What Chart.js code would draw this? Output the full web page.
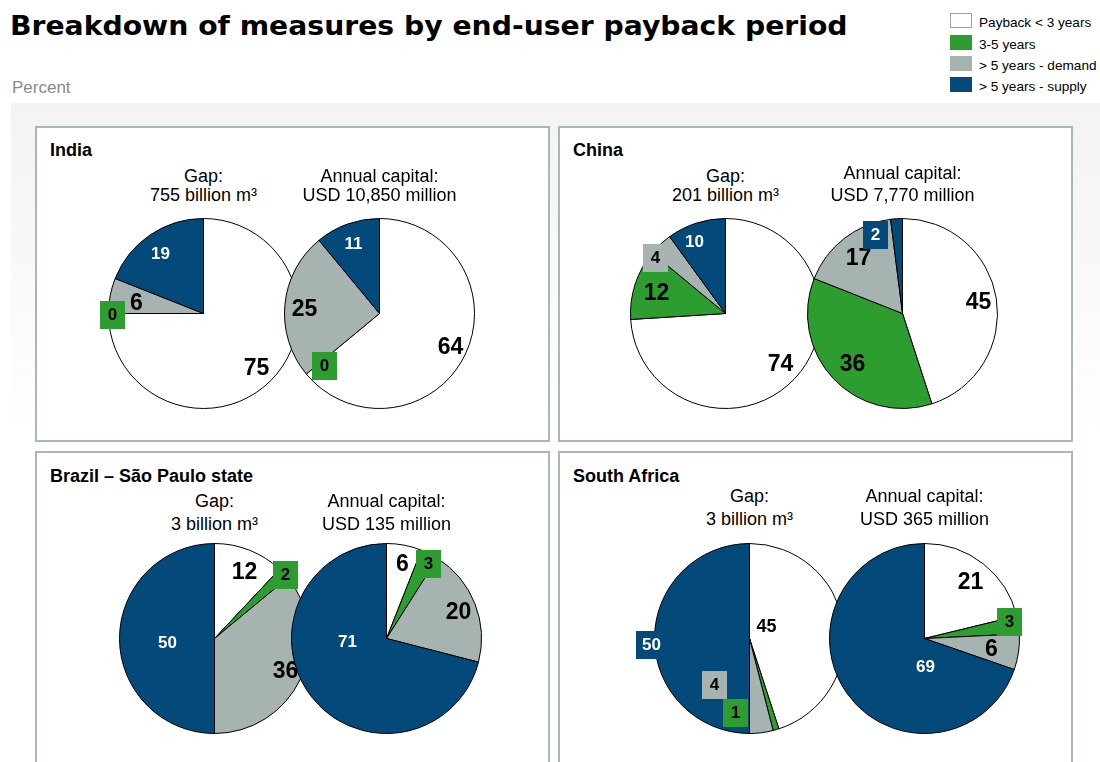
<!DOCTYPE html>
<html>
<head>
<meta charset="utf-8">
<script src="https://cdn.jsdelivr.net/npm/chart.js@4.4.1/dist/chart.umd.min.js"></script>
<style>
  body { margin: 0; width: 1100px; height: 762px; overflow: hidden; background: #fff; position: relative;
         font-family: "Liberation Sans", Arial, sans-serif; }
  #title { position: absolute; left: 10px; top: 12px; font: bold 27px "DejaVu Sans", sans-serif; line-height: 27px;
           white-space: nowrap; transform-origin: 0 0; color: #000; }
  #unit { position: absolute; left: 12px; top: 79px; font-size: 17px; line-height: 17px; color: #8a8a8a; }
  #backdrop { position: absolute; left: 11px; top: 103px; right: 0; bottom: 0;
              background: linear-gradient(#f3f3f1 0px, #f7f7f6 120px, #ffffff 330px); }
  .panel { position: absolute; box-sizing: border-box; border: 2px solid #a9b7b5; background: #fff; }
  .panel-title { position: absolute; font-weight: bold; font-size: 18px; line-height: 18px; white-space: nowrap; }
  .sub { position: absolute; font-size: 18px; text-align: center; white-space: nowrap; width: 240px; }
  .legend-row { position: absolute; left: 950px; height: 15px; }
  .legend-row span.sw { position: absolute; left: 0; top: 0; width: 22px; height: 15px; box-sizing: border-box; }
  .legend-row span.tx { position: absolute; left: 29px; top: 2px; font-size: 13.6px; line-height: 15px; white-space: nowrap; }
  canvas { position: absolute; }
</style>
</head>
<body>
<div id="backdrop"></div>
<div id="title">Breakdown of measures by end-user payback period</div>
<div id="unit">Percent</div>
<div id="legend"></div>
<div id="stage"></div>

<script>
// Payback segments, in drawing order clockwise from 12 o'clock
const segments = ['Payback < 3 years', '3-5 years', '> 5 years - demand', '> 5 years - supply'];
const segmentColors = ['#ffffff', '#2e9d2f', '#a6b3b1', '#034a7b'];
const labelInk = ['#000', '#000', '#000', '#fff'];

// Share of measures (percent) for each region
const indiaGap = [75, 0, 6, 19];
const indiaCapital = [64, 0, 25, 11];
const chinaGap = [74, 12, 4, 10];
const chinaCapital = [45, 36, 17, 2];
const brazilGap = [12, 2, 36, 50];
const brazilCapital = [6, 3, 20, 71];
const southAfricaGap = [45, 1, 4, 50];
const southAfricaCapital = [21, 3, 6, 69];

const regions = ['India', 'China', 'Brazil – São Paulo state', 'South Africa'];
const gapVolumes = ['755 billion m³', '201 billion m³', '3 billion m³', '3 billion m³'];
const annualCapital = ['USD 10,850 million', 'USD 7,770 million', 'USD 135 million', 'USD 365 million'];

// label placement relative to pie centre: [dx, dy, kind]
const labelStyle = {
  big:   { size: 23 },
  mid:   { size: 18 },
  inner: { size: 17 },
  box:   { size: 17 }
};

const panels = [
  { left: 35,  top: 126, height: 316, titleTop: 141, subTop: [166.5, 166.5], subLine: [19.5, 19.5],
    pies: [
      { values: indiaGap, left: 78, top: 188,
        spots: [[53, 54, 'big'], [-91, 1, 'box'], [-67, -11, 'big'], [-43, -60, 'inner']] },
      { values: indiaCapital, left: 254, top: 188,
        spots: [[71, 33, 'big'], [-55, 52, 'box'], [-75, -5, 'big'], [-26, -70, 'inner']] }
    ] },
  { left: 558, top: 126, height: 316, titleTop: 141, subTop: [166.5, 161.5], subLine: [19.5, 22],
    pies: [
      { values: chinaGap, left: 600, top: 188,
        spots: [[55, 50, 'big'], [-69, -21, 'big'], [-70, -56, 'box'], [-31, -72, 'inner']] },
      { values: chinaCapital, left: 777, top: 188,
        spots: [[76, -12, 'big'], [-50, 50, 'big'], [-44, -56, 'big'], [-27, -79, 'box']] }
    ] },
  { left: 35,  top: 451, height: 330, titleTop: 467, subTop: [490, 490], subLine: [22.5, 22.5],
    pies: [
      { values: brazilGap, left: 89, top: 513,
        spots: [[30, -67, 'big'], [71, -64, 'box'], [71, 32, 'big'], [-47, 4, 'inner']] },
      { values: brazilCapital, left: 261, top: 513,
        spots: [[16, -75, 'big'], [42, -75, 'box'], [72, -27, 'big'], [-39, 3, 'inner']] }
    ] },
  { left: 558, top: 451, height: 330, titleTop: 467, subTop: [485, 485], subLine: [22.5, 22.5],
    pies: [
      { values: southAfricaGap, left: 624, top: 513,
        spots: [[17, -12, 'mid'], [-14, 74, 'box'], [-35, 46, 'box'], [-98, 6, 'box']] },
      { values: southAfricaCapital, left: 799, top: 513,
        spots: [[46, -57, 'big'], [85, -17, 'box'], [67, 10, 'big'], [1, 28, 'inner']] }
    ] }
];

const CANVAS = 251;   // pie radius comes out at 95 with 30px padding
const PAD = 30;

// legend
const legend = document.getElementById('legend');
segments.forEach((name, i) => {
  const row = document.createElement('div');
  row.className = 'legend-row';
  row.style.top = [13, 35, 56, 77][i] + 'px';
  const sw = document.createElement('span');
  sw.className = 'sw';
  sw.style.background = segmentColors[i];
  if (i === 0) sw.style.border = '1px solid #9aa3a3';
  const tx = document.createElement('span');
  tx.className = 'tx';
  tx.textContent = name;
  row.append(sw, tx);
  legend.appendChild(row);
});

// stretch the headline to its full width
const title = document.getElementById('title');
title.style.transform = `scaleX(${838 / title.offsetWidth})`;

function sliceLabels(spots) {
  return {
    id: 'sliceLabels',
    afterDatasetsDraw(chart) {
      const { ctx } = chart;
      const arcs = chart.getDatasetMeta(0).data;
      const values = chart.data.datasets[0].data;
      spots.forEach(([dx, dy, kind], i) => {
        const arc = arcs[i];
        const x = arc.x + dx;
        const y = arc.y + dy;
        const text = String(values[i]);
        ctx.save();
        ctx.font = `bold ${labelStyle[kind].size}px "Liberation Sans", Arial, sans-serif`;
        ctx.textAlign = 'center';
        ctx.textBaseline = 'middle';
        if (kind === 'box') {
          const w = Math.max(25, ctx.measureText(text).width + 12);
          ctx.fillStyle = segmentColors[i];
          ctx.fillRect(Math.round(x - w / 2), Math.round(y - 14), Math.round(w), 28);
        }
        ctx.fillStyle = labelInk[i];
        ctx.fillText(text, x, y + 1);
        ctx.restore();
      });
    }
  };
}

const stage = document.getElementById('stage');
const charts = [];

panels.forEach((p, k) => {
  const box = document.createElement('div');
  box.className = 'panel';
  Object.assign(box.style, { left: p.left + 'px', top: p.top + 'px', width: '515px', height: p.height + 'px' });
  stage.appendChild(box);

  const t = document.createElement('div');
  t.className = 'panel-title';
  t.textContent = regions[k];
  Object.assign(t.style, { left: (p.left + 15) + 'px', top: p.titleTop + 'px' });
  stage.appendChild(t);

  p.pies.forEach((pie, j) => {
    const cx = pie.left + CANVAS / 2;
    const sub = document.createElement('div');
    sub.className = 'sub';
    sub.style.left = (cx - 120) + 'px';
    sub.style.top = p.subTop[j] + 'px';
    sub.style.lineHeight = p.subLine[j] + 'px';
    sub.innerHTML = j === 0
      ? 'Gap:<br>' + gapVolumes[k]
      : 'Annual capital:<br>' + annualCapital[k];
    stage.appendChild(sub);

    const canvas = document.createElement('canvas');
    canvas.width = CANVAS;
    canvas.height = CANVAS;
    canvas.style.left = pie.left + 'px';
    canvas.style.top = pie.top + 'px';
    stage.appendChild(canvas);

    charts.push(new Chart(canvas, {
      type: 'pie',
      data: {
        labels: segments,
        datasets: [{
          data: pie.values,
          backgroundColor: segmentColors,
          borderColor: '#000',
          borderWidth: 1
        }]
      },
      options: {
        responsive: false,
        animation: false,
        events: [],
        layout: { padding: PAD },
        plugins: {
          legend: { display: false },
          tooltip: { enabled: false }
        }
      },
      plugins: [sliceLabels(pie.spots)]
    }));
  });
});
</script>
</body>
</html>
